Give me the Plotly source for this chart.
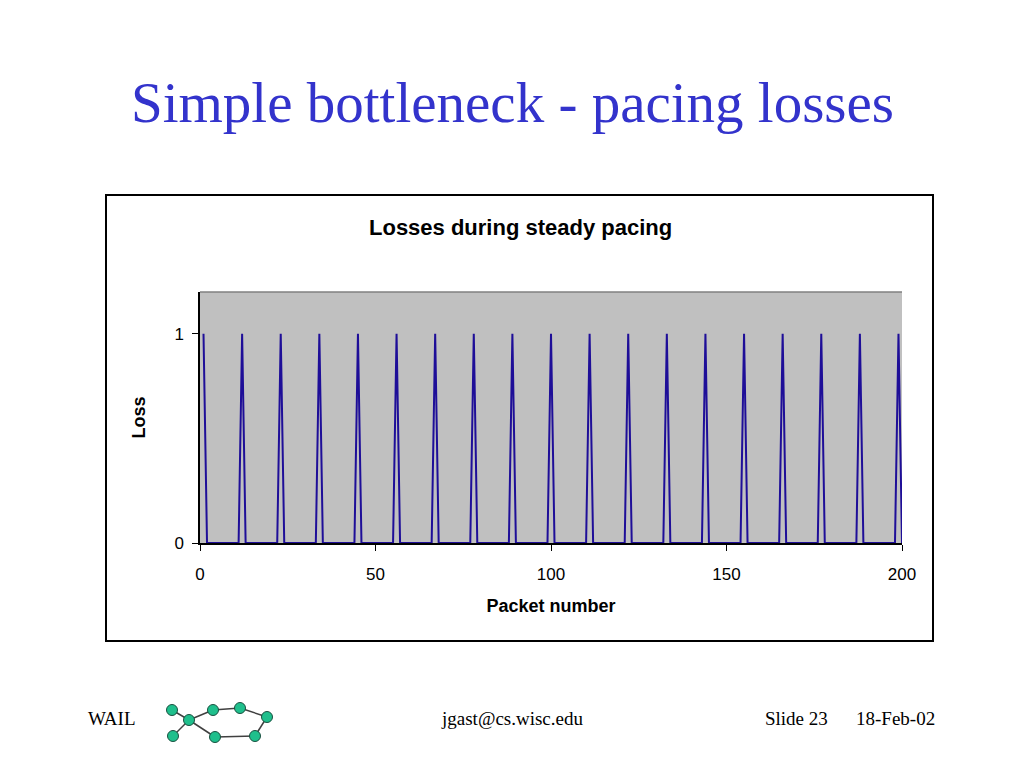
import plotly.graph_objects as go

# packet numbers shown on the x axis and the ones that were lost
packet_numbers = list(range(1, 201))
lost_packets = [1, 12, 23, 34, 45, 56, 67, 78, 89, 100, 111, 122, 133,
                144, 155, 166, 177, 188, 199]
loss_values = [1 if p in lost_packets else 0 for p in packet_numbers]

x_ticks = [0, 50, 100, 150, 200]
y_ticks = [0, 1]

slide_title = "Simple bottleneck - pacing losses"
chart_title = "Losses during steady pacing"

# page body adds ~8px margin, so shift everything back
OFF = 8
# plot area in screen pixels: x 200..902, y 292..543
PL, PR, PT, PB = 200, 902, 292, 543


def px(x):
    return (x - PL) / (PR - PL)


def py(y):
    return (PB - y) / (PB - PT)


trace = go.Scatter(x=packet_numbers, y=loss_values, mode="lines",
                   line=dict(color="#1E0E98", width=2), showlegend=False,
                   hoverinfo="x+y")

fig = go.Figure(data=[trace])

axis_font = dict(family="Liberation Sans, Arial, sans-serif", size=17, color="black")
title_font = dict(family="Liberation Sans, Arial, sans-serif", size=18, color="black")

fig.update_layout(
    width=1024, height=768,
    margin=dict(l=PL - OFF, r=1024 - PR + OFF, t=PT - OFF, b=768 - PB + OFF, pad=0),
    paper_bgcolor="white",
    plot_bgcolor="#C0C0C0",
    xaxis=dict(range=[0, 200], tickvals=x_ticks, ticks="outside", ticklen=6,
               tickcolor="black", showline=True, linecolor="black", linewidth=1.5,
               showgrid=False, zeroline=False, tickfont=axis_font,
               ticklabelstandoff=9,
               title=dict(text="<b>Packet number</b>", font=title_font, standoff=16)),
    yaxis=dict(range=[0, 1.2], tickvals=y_ticks, ticks="outside", ticklen=6,
               tickcolor="black", showline=True, linecolor="black", linewidth=1.5,
               showgrid=False, zeroline=False, tickfont=axis_font,
               ticklabelstandoff=5,
               title=dict(text="<b>Loss</b>", font=title_font, standoff=24)),
)

shapes = [
    # chart border box
    dict(type="rect", xref="paper", yref="paper", x0=px(106), x1=px(933),
         y0=py(641), y1=py(195), line=dict(color="black", width=2), layer="below"),
    # gray top edge of plot area
    dict(type="line", xref="paper", yref="paper", x0=0, x1=1, y0=1, y1=1,
         line=dict(color="#808080", width=1.5)),
]

# WAIL network logo in the footer
logo_nodes = [(172, 710), (189, 720), (213, 710), (240, 708), (267, 717),
              (255, 736), (215, 737), (173, 736)]
logo_edges = [(0, 1), (1, 7), (1, 2), (2, 3), (3, 4), (4, 5), (5, 6), (6, 1)]
for a, b in logo_edges:
    (xa, ya), (xb, yb) = logo_nodes[a], logo_nodes[b]
    shapes.append(dict(type="line", xref="paper", yref="paper",
                       x0=px(xa), y0=py(ya), x1=px(xb), y1=py(yb),
                       line=dict(color="#404040", width=1.5)))
r = 5.5
for (cx, cy) in logo_nodes:
    shapes.append(dict(type="circle", xref="paper", yref="paper",
                       x0=px(cx - r), x1=px(cx + r), y0=py(cy + r), y1=py(cy - r),
                       fillcolor="#1FBF8C", line=dict(color="#1a5040", width=1)))
fig.update_layout(shapes=shapes)

serif = "Liberation Serif, Times New Roman, serif"
annotations = [
    dict(text=slide_title, x=px(512), y=py(102), xref="paper", yref="paper",
         showarrow=False, xanchor="center", yanchor="middle",
         font=dict(family=serif, size=57, color="#3333CC")),
    dict(text="<b>" + chart_title + "</b>", x=px(520), y=py(227), xref="paper",
         yref="paper", showarrow=False, xanchor="center", yanchor="middle",
         font=dict(family="Liberation Sans, Arial, sans-serif", size=22, color="black")),
    dict(text="WAIL", x=px(86), y=py(718), xref="paper", yref="paper",
         showarrow=False, xanchor="left", yanchor="middle",
         font=dict(family=serif, size=19, color="black")),
    dict(text="jgast@cs.wisc.edu", x=px(512), y=py(718), xref="paper", yref="paper",
         showarrow=False, xanchor="center", yanchor="middle",
         font=dict(family=serif, size=19, color="black")),
    dict(text="Slide 23", x=px(830), y=py(718), xref="paper", yref="paper",
         showarrow=False, xanchor="right", yanchor="middle",
         font=dict(family=serif, size=19, color="black")),
    dict(text="18-Feb-02", x=px(937), y=py(718), xref="paper", yref="paper",
         showarrow=False, xanchor="right", yanchor="middle",
         font=dict(family=serif, size=19, color="black")),
]
fig.update_layout(annotations=annotations)

fig.write_html("out.html")
